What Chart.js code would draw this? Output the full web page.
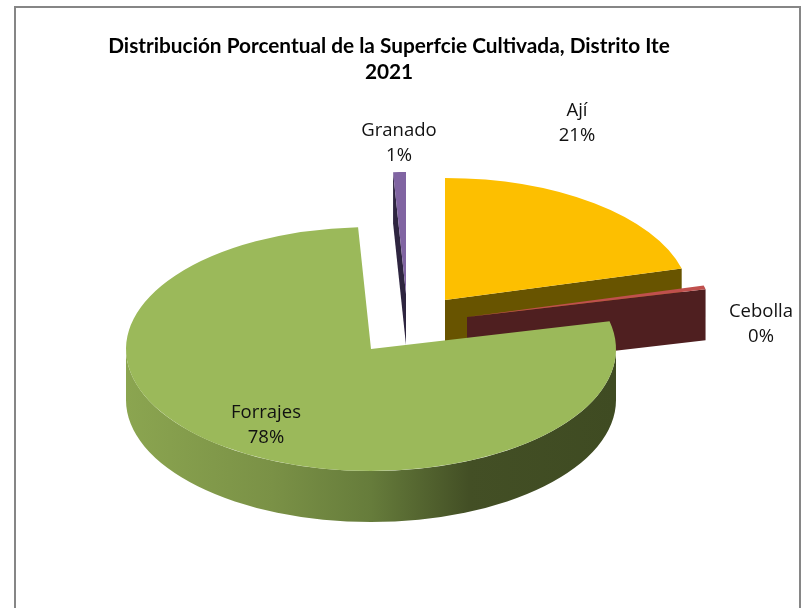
<!DOCTYPE html>
<html><head><meta charset="utf-8">
<style>html,body{margin:0;padding:0;background:#fff}#wrap{position:relative;width:802px;height:608px}</style>
<script src="https://cdn.jsdelivr.net/npm/chart.js@4"></script>
</head><body><div id="wrap"><canvas id="c" width="802" height="608"></canvas></div>
<script>
const categories = ['Ají','Cebolla','Forrajes','Granado'];
const surfaceShare = [20.85, 0.49, 77.82, 0.84];
const titleLines = ['Distribución Porcentual de la Superfcie Cultivada, Distrito Ite','2021'];
const topColors = ['#fdbf00','#c0504d','#9bb95a','#8064a2'];
const wallColors = ['#685400','#4f1f20',null,'#2e2540'];

const TILT = 0.498, DEPTH = 51;
// screen position of each slice's apex (exploded pie)
const apex = [[445,300],[467,317],[371,349],[406,294]];
const labelPos = [[577,111],[761,312],[266,413],[399,131]];
const drawOrder = [3,0,1,2];

const pie3d = {
  id:'pie3d',
  beforeDatasetDraw(chart){
    const ctx = chart.ctx, arcs = chart.getDatasetMeta(0).data;
    drawOrder.forEach(i=>{
      const a = arcs[i], [ax,ay] = apex[i], R = a.outerRadius;
      const pt = t => [ax+R*Math.cos(t), ay+TILT*R*Math.sin(t)];
      ctx.save();
      if (i===2){
        // outer rim, visible front half
        const g = ctx.createLinearGradient(ax-R,0,ax+R,0);
        g.addColorStop(0,'#8ba550'); g.addColorStop(0.3,'#7a9146');
        g.addColorStop(0.5,'#667c3b'); g.addColorStop(0.7,'#434f25'); g.addColorStop(1,'#3f4b22');
        ctx.fillStyle = g;
        ctx.beginPath();
        ctx.ellipse(ax,ay,R,R*TILT,0,0,Math.PI,false);
        ctx.lineTo(ax-R,ay+DEPTH);
        ctx.ellipse(ax,ay+DEPTH,R,R*TILT,0,Math.PI,0,true);
        ctx.closePath(); ctx.fill();
      } else {
        // radial cut face seen from the front
        const t = i===3 ? a.startAngle : a.endAngle;
        const [px,py] = pt(t);
        ctx.fillStyle = wallColors[i];
        ctx.beginPath();
        ctx.moveTo(ax,ay); ctx.lineTo(px,py); ctx.lineTo(px,py+DEPTH); ctx.lineTo(ax,ay+DEPTH);
        ctx.closePath(); ctx.fill();
      }
      ctx.translate(ax,ay); ctx.scale(1,TILT); ctx.translate(-a.x,-a.y);
      a.draw(ctx);
      ctx.restore();
    });
    return false;
  },
  afterDraw(chart){
    const ctx = chart.ctx;
    ctx.save();
    ctx.strokeStyle='#868686'; ctx.lineWidth=2;
    ctx.strokeRect(15,7,785,640);
    ctx.fillStyle='#111'; ctx.textAlign='center'; ctx.textBaseline='middle';
    ctx.font='18.5px "Open Sans"';
    categories.forEach((n,i)=>{
      const [x,y]=labelPos[i];
      ctx.fillText(n,x,y);
      ctx.fillText(Math.round(surfaceShare[i])+'%',x,y+25);
    });
    ctx.restore();
  }
};

new Chart(document.getElementById('c'),{
  type:'pie',
  data:{labels:categories,datasets:[{data:surfaceShare,backgroundColor:topColors,borderWidth:0}]},
  options:{
    responsive:false,animation:false,radius:245,
    layout:{padding:{right:24}},
    plugins:{
      legend:{display:false},tooltip:{enabled:false},
      title:{display:true,text:titleLines,color:'#000',
        font:{family:'Lato',size:20.8,weight:'bold',lineHeight:1.25},padding:{top:33,bottom:0}}
    }
  },
  plugins:[pie3d]
});
</script></body></html>
